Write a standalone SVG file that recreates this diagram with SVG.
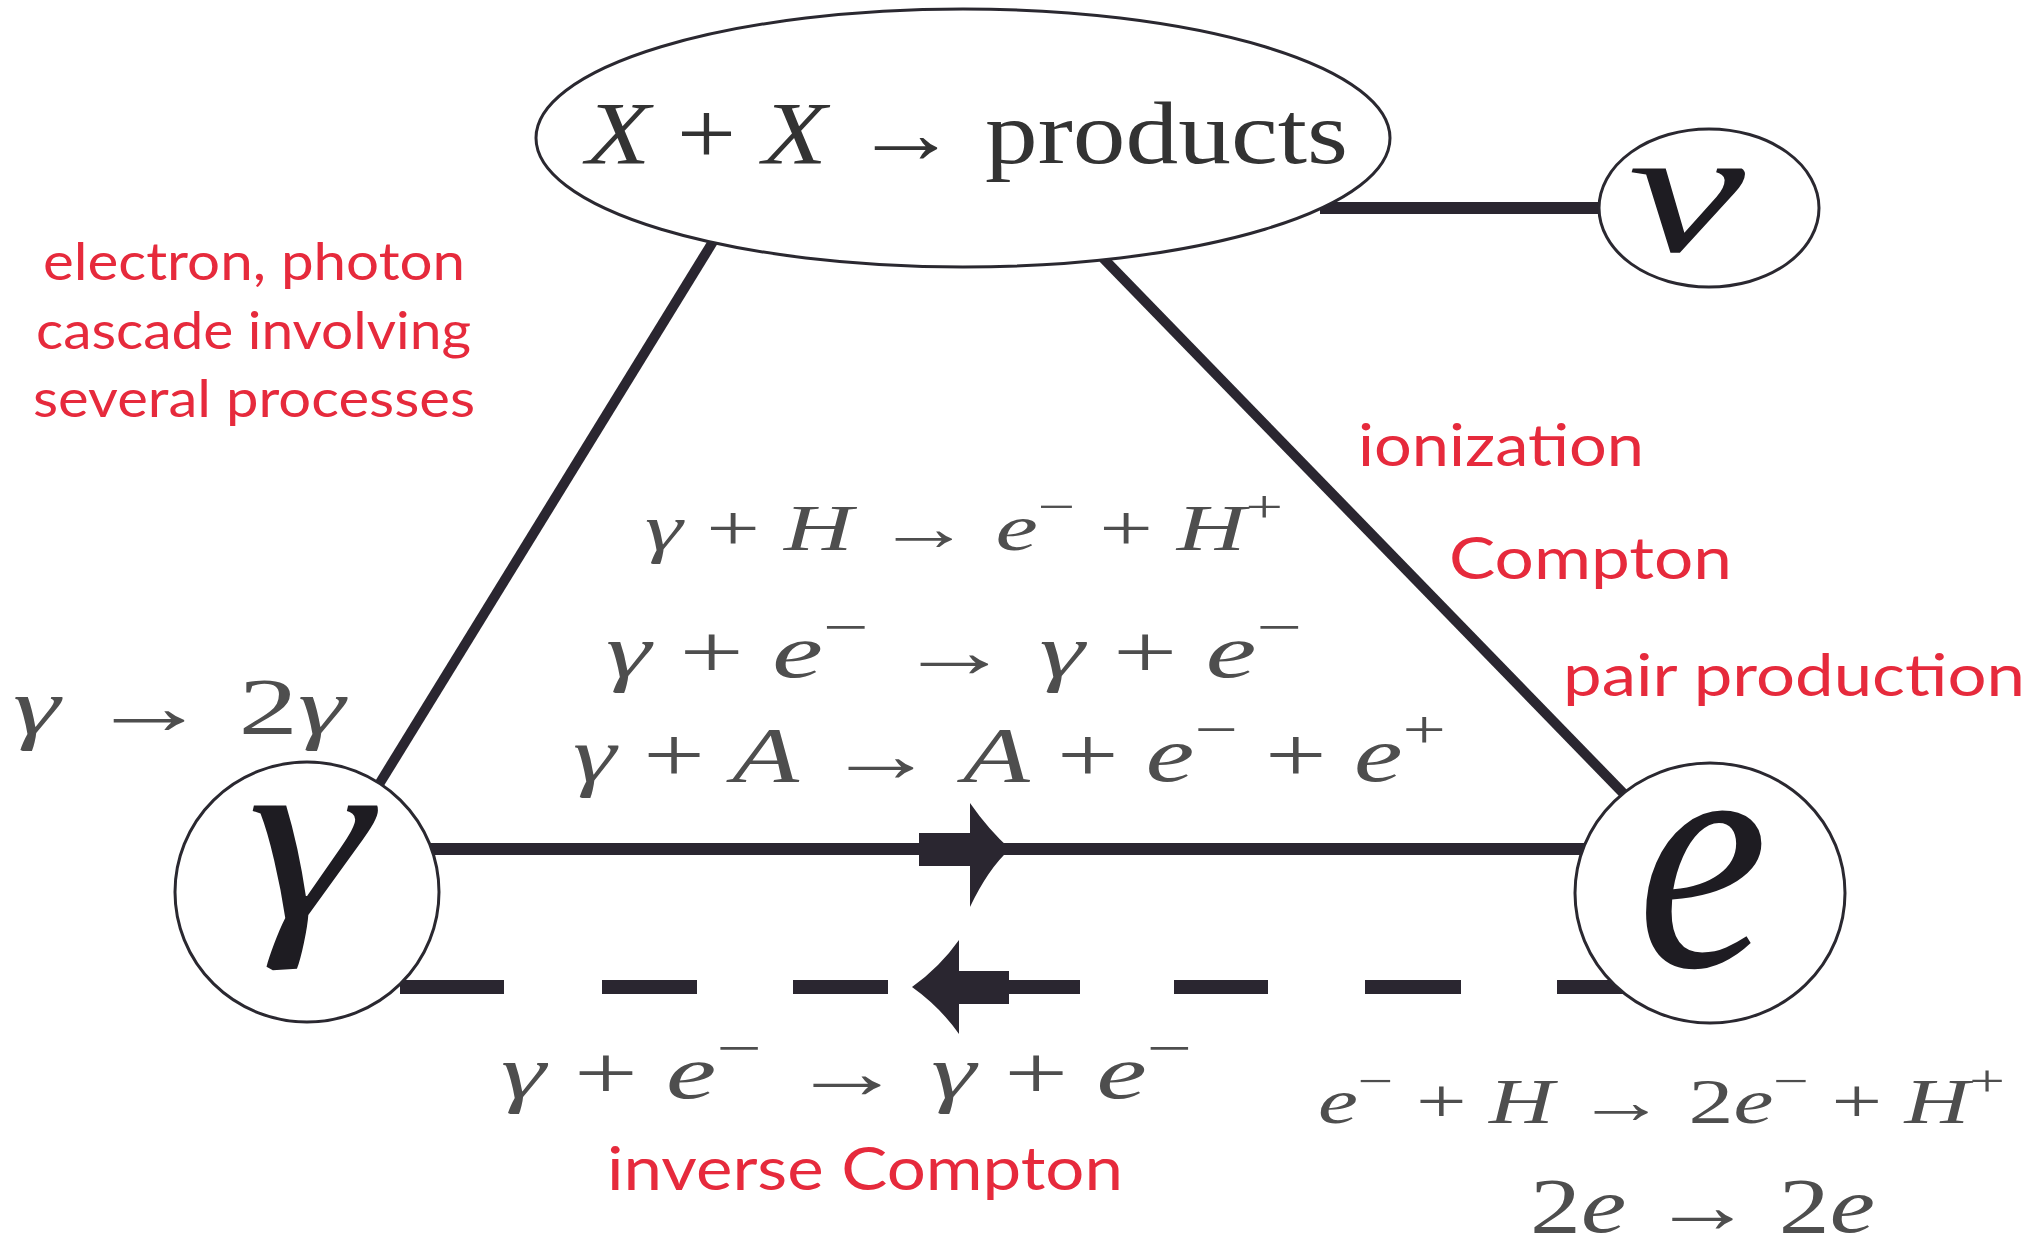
<svg xmlns="http://www.w3.org/2000/svg" width="2042" height="1246" viewBox="0 0 2042 1246">
<style>
.red{fill:#e62a3c;font-family:Lato,"Open Sans","Liberation Sans",sans-serif}
.math{fill:#4e4e4e;font-family:"Liberation Serif","DejaVu Serif",serif}
.big{fill:#1e1c22;font-family:"Liberation Serif","DejaVu Serif",serif;font-style:italic}
.it{font-style:italic}
.node{fill:#fff;stroke:#2a2830;stroke-width:3}
.conn{stroke:#2a2630;fill:none}
.head{fill:#2a2630}
</style>
<rect width="2042" height="1246" fill="#fff"/>
<g id="connectors">
  <line class="conn" x1="1320" y1="208" x2="1605" y2="208" stroke-width="12"/>
  <line class="conn" x1="714" y1="240" x2="378" y2="786" stroke-width="10"/>
  <line class="conn" x1="1103" y1="258" x2="1624" y2="794" stroke-width="10"/>
  <line class="conn" x1="430" y1="849" x2="1585" y2="849" stroke-width="12"/>
  <rect class="head" x="919" y="833" width="54" height="33"/>
  <path class="head" d="M970,803 Q988,829 1010,849 Q988,869 970,907 Z"/>
  <path class="conn" stroke-width="14" d="M400,987 H504 M602,987 H697 M793,987 H888 M1008,987 H1080 M1174,987 H1268 M1365,987 H1461 M1557,987 H1625"/>
  <rect class="head" x="956" y="971" width="53" height="33"/>
  <path class="head" d="M959,940 Q940,967 912,987 Q940,1007 959,1034 Z"/>
</g>
<g id="node-products">
  <ellipse class="node" cx="963" cy="138" rx="427" ry="129"/>
  <text x="586" y="163" font-size="88" fill="#333" font-family="'Liberation Serif','DejaVu Serif',serif" textLength="762" lengthAdjust="spacingAndGlyphs"><tspan class="it">X</tspan> + <tspan class="it">X</tspan> → products</text>
</g>
<g id="node-nu">
  <ellipse class="node" cx="1709" cy="208" rx="110" ry="79"/>
  <text class="big" x="1628" y="251" font-size="180" textLength="117" lengthAdjust="spacingAndGlyphs">ν</text>
</g>
<g id="node-gamma">
  <ellipse class="node" cx="307" cy="892" rx="132" ry="130"/>
  <text class="big" x="247" y="918" font-size="245" textLength="124" lengthAdjust="spacingAndGlyphs">γ</text>
</g>
<g id="node-e">
  <ellipse class="node" cx="1710" cy="893" rx="135" ry="130"/>
  <text class="big" x="1637" y="966" font-size="330" textLength="131" lengthAdjust="spacingAndGlyphs">e</text>
</g>
<g id="labels">
  <text class="red" font-size="52" x="43" y="280" textLength="422" lengthAdjust="spacingAndGlyphs">electron, photon</text>
  <text class="red" font-size="52" x="36" y="349" textLength="435" lengthAdjust="spacingAndGlyphs">cascade involving</text>
  <text class="red" font-size="52" x="33" y="417" textLength="442" lengthAdjust="spacingAndGlyphs">several processes</text>
  <text class="red" font-size="58" x="1358" y="466" textLength="286" lengthAdjust="spacingAndGlyphs">ionization</text>
  <text class="red" font-size="58" x="1449" y="579" textLength="283" lengthAdjust="spacingAndGlyphs">Compton</text>
  <text class="red" font-size="58" x="1563" y="696" textLength="462" lengthAdjust="spacingAndGlyphs">pair production</text>
  <text class="red" font-size="60" x="607" y="1190" textLength="516" lengthAdjust="spacingAndGlyphs">inverse Compton</text>

  <text class="math" font-size="80" x="13" y="734" textLength="332" lengthAdjust="spacingAndGlyphs"><tspan class="it">γ</tspan> → 2<tspan class="it">γ</tspan></text>
  <text class="math" font-size="66" x="645" y="550" textLength="638" lengthAdjust="spacingAndGlyphs"><tspan class="it">γ</tspan> + <tspan class="it">H</tspan> → <tspan class="it">e</tspan><tspan dy="-28" font-size="46">−</tspan><tspan dy="28"> + </tspan><tspan class="it">H</tspan><tspan dy="-28" font-size="46">+</tspan></text>
  <text class="math" font-size="76" x="606" y="677" textLength="696" lengthAdjust="spacingAndGlyphs"><tspan class="it">γ</tspan> + <tspan class="it">e</tspan><tspan dy="-32" font-size="54">−</tspan><tspan dy="32"> → </tspan><tspan class="it">γ</tspan> + <tspan class="it">e</tspan><tspan dy="-32" font-size="54">−</tspan></text>
  <text class="math" font-size="78" x="573" y="781" textLength="873" lengthAdjust="spacingAndGlyphs"><tspan class="it">γ</tspan> + <tspan class="it">A</tspan> → <tspan class="it">A</tspan> + <tspan class="it">e</tspan><tspan dy="-33" font-size="55">−</tspan><tspan dy="33"> + </tspan><tspan class="it">e</tspan><tspan dy="-33" font-size="55">+</tspan></text>
  <text class="math" font-size="76" x="501" y="1098" textLength="691" lengthAdjust="spacingAndGlyphs"><tspan class="it">γ</tspan> + <tspan class="it">e</tspan><tspan dy="-32" font-size="54">−</tspan><tspan dy="32"> → </tspan><tspan class="it">γ</tspan> + <tspan class="it">e</tspan><tspan dy="-32" font-size="54">−</tspan></text>
  <text class="math" font-size="64" x="1318" y="1123" textLength="687" lengthAdjust="spacingAndGlyphs"><tspan class="it">e</tspan><tspan dy="-27" font-size="45">−</tspan><tspan dy="27"> + </tspan><tspan class="it">H</tspan> → 2<tspan class="it">e</tspan><tspan dy="-27" font-size="45">−</tspan><tspan dy="27"> + </tspan><tspan class="it">H</tspan><tspan dy="-27" font-size="45">+</tspan></text>
  <text class="math" font-size="78" x="1530" y="1232" textLength="345" lengthAdjust="spacingAndGlyphs">2<tspan class="it">e</tspan> → 2<tspan class="it">e</tspan></text>
</g>
</svg>
